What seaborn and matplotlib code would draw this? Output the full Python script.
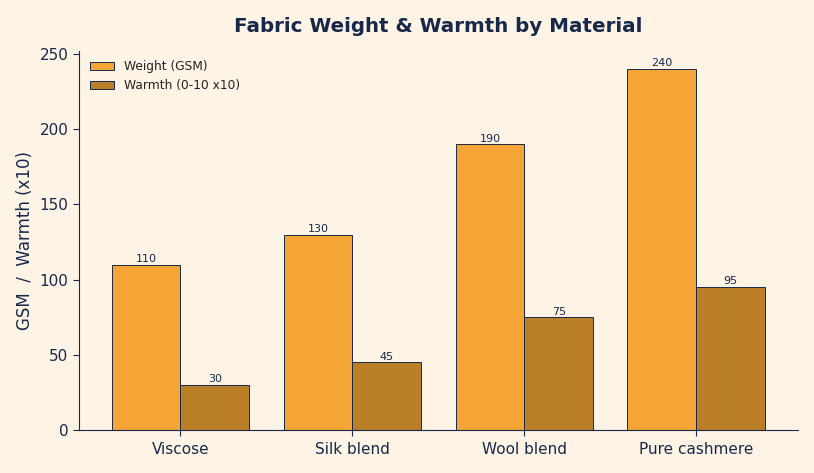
import matplotlib
matplotlib.use("Agg")
import matplotlib.pyplot as plt
import seaborn as sns
import pandas as pd

materials = ["Viscose", "Silk blend", "Wool blend", "Pure cashmere"]
weight_gsm = [110, 130, 190, 240]
warmth_x10 = [30, 45, 75, 95]
series_names = ["Weight (GSM)", "Warmth (0-10 x10)"]
colors = ["#F5A535", "#BA7F27"]

bg = "#FEF4E6"
navy = "#17284A"

df = pd.DataFrame({
    "Material": materials * 2,
    "Series": [series_names[0]] * 4 + [series_names[1]] * 4,
    "Value": weight_gsm + warmth_x10,
})

sns.set_theme(style="white")
plt.rcParams["font.family"] = ["DejaVu Sans"]

fig = plt.figure(figsize=(8.14, 4.73), dpi=100, facecolor=bg)
ax = fig.add_axes([0.097, 0.091, 0.883, 0.801])
ax.set_facecolor(bg)

sns.barplot(data=df, x="Material", y="Value", hue="Series", palette=colors,
            edgecolor=navy, linewidth=0.7, width=0.8, ax=ax, saturation=1)

for cont in ax.containers:
    ax.bar_label(cont, fmt="%d", fontsize=8, color=navy, padding=0.5)

ax.set_xlim(-0.59, 3.59)
ax.set_ylim(0, 252)
ax.set_xlabel("")
ax.set_ylabel("GSM  /  Warmth (x10)", fontsize=12, color=navy)
ax.set_title("Fabric Weight & Warmth by Material", fontsize=14.3, fontweight="bold",
             color=navy, pad=14)
ax.tick_params(axis="both", colors=navy, labelsize=11, length=4, width=0.8, left=True, bottom=True)
ax.tick_params(axis="x", pad=4.5)
for s in ["top", "right"]:
    ax.spines[s].set_visible(False)
for s in ["left", "bottom"]:
    ax.spines[s].set_color(navy)
    ax.spines[s].set_linewidth(0.8)

leg = ax.legend(loc="upper left", fontsize=8.8, frameon=False, title=None,
                bbox_to_anchor=(0.0, 1.005))
for t in leg.get_texts():
    t.set_color("#222222")

fig.savefig("out.png", dpi=100, facecolor=bg)
